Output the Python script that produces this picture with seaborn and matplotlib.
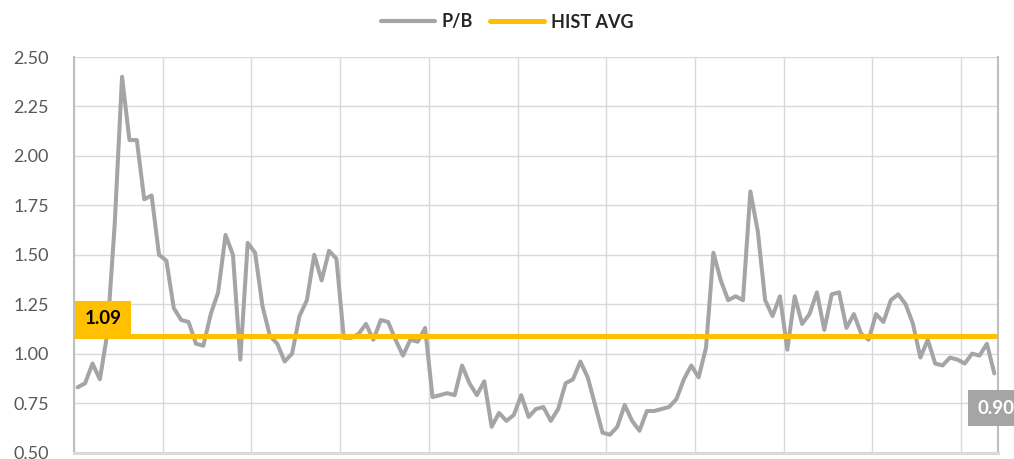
import numpy as np
import pandas as pd
import matplotlib
matplotlib.use("Agg")
import matplotlib.pyplot as plt
import seaborn as sns
from matplotlib.lines import Line2D

# ----------------------------------------------------
# Data (monthly P/B)
# ----------------------------------------------------
pb_values = [
    0.83, 0.85, 0.95, 0.87, 1.10, 1.65, 2.40, 2.08, 2.08, 1.78,
    1.80, 1.50, 1.47, 1.23, 1.17, 1.16, 1.05, 1.04, 1.20, 1.31,
    1.60, 1.50, 0.97, 1.56, 1.51, 1.24, 1.09, 1.05, 0.96, 1.00,
    1.19, 1.27, 1.50, 1.37, 1.52, 1.48, 1.08, 1.08, 1.10, 1.15,
    1.07, 1.17, 1.16, 1.07, 0.99, 1.07, 1.06, 1.13, 0.78, 0.79,
    0.80, 0.79, 0.94, 0.85, 0.79, 0.86, 0.63, 0.70, 0.66, 0.69,
    0.79, 0.68, 0.72, 0.73, 0.66, 0.72, 0.85, 0.87, 0.96, 0.88,
    0.74, 0.60, 0.59, 0.63, 0.74, 0.66, 0.61, 0.71, 0.71, 0.72,
    0.73, 0.77, 0.87, 0.94, 0.88, 1.03, 1.51, 1.37, 1.27, 1.29,
    1.27, 1.82, 1.62, 1.27, 1.19, 1.29, 1.02, 1.29, 1.15, 1.20,
    1.31, 1.12, 1.30, 1.31, 1.13, 1.20, 1.10, 1.07, 1.20, 1.16,
    1.27, 1.30, 1.25, 1.15, 0.98, 1.07, 0.95, 0.94, 0.98, 0.97,
    0.95, 1.00, 0.99, 1.05, 0.90,
]
hist_avg = 1.09
y_ticks = [0.50, 0.75, 1.00, 1.25, 1.50, 1.75, 2.00, 2.25, 2.50]
months_per_grid = 12

PB_COLOR = "#A5A5A5"
AVG_COLOR = "#FFC000"
GRID_COLOR = "#D9D9D9"

df = pd.DataFrame({"month": np.arange(len(pb_values)), "pb": pb_values})

sns.set_style("white")
plt.rcParams["font.family"] = ["Lato", "DejaVu Sans"]

fig = plt.figure(figsize=(10.14, 4.59), dpi=100)
ax = fig.add_axes([74 / 1014, 6.5 / 459, 924 / 1014, 395.5 / 459])

sns.lineplot(data=df, x="month", y="pb", color=PB_COLOR, linewidth=2.9, ax=ax, zorder=3)
ax.axhline(hist_avg, color=AVG_COLOR, linewidth=3.6, zorder=4, solid_capstyle="butt")

ax.set_xlim(-0.5, len(pb_values) - 0.5)
ax.set_ylim(y_ticks[0], y_ticks[-1])
ax.set_yticks(y_ticks)
ax.set_yticklabels([f"{v:.2f}" for v in y_ticks])
ax.set_xticks(np.arange(-0.5, len(pb_values), months_per_grid))
ax.set_xticklabels([])
ax.set_xlabel("")
ax.set_ylabel("")

ax.grid(True, color=GRID_COLOR, linewidth=1.0, zorder=0)
ax.tick_params(axis="y", length=0, pad=18, labelsize=13, labelcolor="#595959")
ax.tick_params(axis="x", direction="out", length=5, width=1, color=GRID_COLOR)

for side in ["left", "right"]:
    ax.spines[side].set_color("#BFBFBF")
    ax.spines[side].set_linewidth(1.5)
ax.spines["bottom"].set_color(GRID_COLOR)
ax.spines["bottom"].set_linewidth(2.2)
ax.spines["top"].set_visible(False)

# data labels: hist avg at the left, last P/B value at the right
ax.annotate(f"{hist_avg:.2f}", xy=(0, hist_avg), xycoords=("axes fraction", "data"),
            xytext=(7.5, 6), textcoords="offset points",
            ha="left", va="bottom", fontsize=13.5, fontweight="bold", color="black", zorder=5,
            bbox=dict(boxstyle="square,pad=0.5", fc=AVG_COLOR, ec="none"))

last_idx = len(pb_values) - 1
ax.annotate(f"{pb_values[-1]:.2f}", xy=(last_idx, pb_values[-1]), xytext=(1, -25),
            textcoords="offset points", ha="center", va="center",
            fontsize=13.5, fontweight="bold", color="white", annotation_clip=False,
            bbox=dict(boxstyle="square,pad=0.5", fc=PB_COLOR, ec="none"), zorder=5)

handles = [Line2D([0], [0], color=PB_COLOR, linewidth=3),
           Line2D([0], [0], color=AVG_COLOR, linewidth=3.6)]
fig.legend(handles, ["P/B", "HIST AVG"], loc="center", bbox_to_anchor=(0.5, 1 - 22 / 459),
           ncol=2, frameon=False, handlelength=3.0, handletextpad=0.4, columnspacing=0.9,
           prop={"weight": "bold", "size": 13})

fig.savefig("out.png", dpi=100)
